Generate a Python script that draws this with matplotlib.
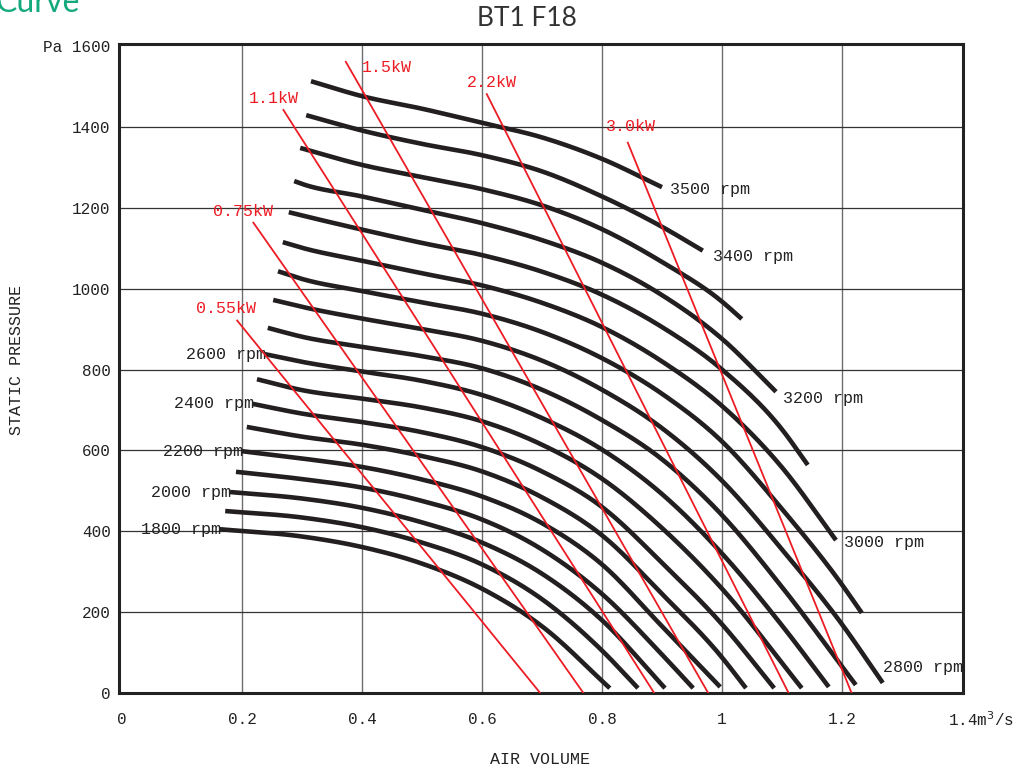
"""
BT1 F18 fan curve: static pressure vs air volume for 1800-3500 rpm,
with constant absorbed-power lines (0.55 - 3.0 kW) drawn in red.
Values read off the original chart by eye.
"""
import numpy as np
import matplotlib
matplotlib.use("Agg")
import matplotlib.pyplot as plt

MONO = "Liberation Mono"

# --- data ---------------------------------------------------------------
RPM = [1800, 1900, 2000, 2100, 2200, 2300, 2400, 2500, 2600,
       2700, 2800, 2900, 3000, 3100, 3200, 3300, 3400, 3500]

Q_START = [0.163, 0.172, 0.180, 0.190, 0.200, 0.208, 0.218, 0.225, 0.238,
           0.243, 0.252, 0.260, 0.268, 0.278, 0.287, 0.297, 0.307, 0.315]
P_START = [405, 450, 497, 547, 598, 658, 715, 776, 838,
           903, 972, 1043, 1115, 1189, 1266, 1348, 1429, 1513]

Q_END = [0.813, 0.860, 0.905, 0.952, 0.997, 1.040, 1.087, 1.133, 1.178,
         1.223, 1.268, 1.233, 1.190, 1.143, 1.090, 1.033, 0.968, 0.900]
P_END = [12, 12, 12, 12, 15, 12, 12, 12, 15,
         20, 25, 198, 378, 564, 745, 925, 1094, 1251]

# pressure where each curve crosses Q = 0.3 ... 1.2 (None = outside curve)
Q_GRID = [0.3, 0.4, 0.5, 0.6, 0.7, 0.8, 0.9, 1.0, 1.1, 1.2]
P_GRID = [
    [387, 361, 320, 258, 165, None, None, None, None, None],      # 1800
    [434, 410, 372, 318, 232, 105, None, None, None, None],       # 1900
    [481, 458, 422, 372, 295, 180, None, None, None, None],       # 2000
    [529, 508, 475, 429, 355, 245, 95, None, None, None],         # 2100
    [580, 559, 528, 486, 420, 318, 165, None, None, None],        # 2200
    [634, 614, 586, 548, 484, 390, 245, 88, None, None],          # 2300
    [691, 670, 645, 608, 548, 460, 322, 170, None, None],         # 2400
    [749, 728, 706, 672, 614, 530, 408, 258, None, None],         # 2500
    [819, 795, 772, 737, 680, 602, 492, 345, 167, None],          # 2600
    [881, 856, 833, 803, 750, 675, 578, 440, 262, None],          # 2700
    [955, 926, 900, 871, 822, 750, 655, 525, 355, 170],           # 2800
    [1024, 994, 966, 938, 893, 828, 740, 622, 455, 268],          # 2900
    [1101, 1069, 1038, 1008, 965, 905, 820, 710, 558, None],      # 3000
    [1181, 1146, 1113, 1083, 1042, 985, 905, 800, 652, None],     # 3100
    [1259, 1228, 1195, 1162, 1120, 1064, 984, 876, None, None],   # 3200
    [None, 1306, 1276, 1246, 1206, 1147, 1066, 968, None, None],  # 3300
    [None, 1391, 1358, 1330, 1290, 1228, 1153, None, None, None], # 3400
    [None, 1476, 1445, 1410, 1374, 1321, None, None, None, None], # 3500
]

LABELLED_LEFT = [1800, 2000, 2200, 2400, 2600]
LABELLED_RIGHT = [2800, 3000, 3200, 3400, 3500]

# constant power lines: top point and where they meet P = 0
KW_LABELS = ["0.55kW", "0.75kW", "1.1kW", "1.5kW", "2.2kW", "3.0kW"]
KW_Q_TOP = [0.192, 0.219, 0.269, 0.373, 0.608, 0.843]
KW_P_TOP = [921, 1163, 1442, 1561, 1481, 1361]
KW_Q_ZERO = [0.697, 0.769, 0.887, 0.977, 1.111, 1.216]

X_TICKS = [0, 0.2, 0.4, 0.6, 0.8, 1.0, 1.2]
X_TICKLABELS = ["0", "0.2", "0.4", "0.6", "0.8", "1", "1.2"]
Y_TICKS = [0, 200, 400, 600, 800, 1000, 1200, 1400, 1600]
Y_TICKLABELS = ["0", "200", "400", "600", "800", "1000", "1200", "1400", "Pa 1600"]

# --- layout ---------------------------------------------------------------
KW_TEXT_POS = [(0.123, 952), (0.152, 1190), (0.212, 1471),
               (0.400, 1548), (0.575, 1511), (0.807, 1400)]
RIGHT_LABEL_OFFSET = {2800: (0, 11), 3000: (6, -2), 3200: (5, -5),
                      3400: (7, -4), 3500: (6, -2)}

CURVE_COLOR = "#231f20"
RED = "#ed1c24"
TEXT = "#222222"


def smooth(xs, ys, n=24):
    """Cubic Hermite through the read points (tangents from neighbouring
    secants), only so the thick lines don't show corners."""
    xs = np.asarray(xs, float)
    ys = np.asarray(ys, float)
    d = np.diff(ys) / np.diff(xs)
    h = np.diff(xs)
    m = np.empty_like(xs)
    m[0], m[-1] = d[0], d[-1]
    for i in range(1, len(xs) - 1):
        m[i] = (d[i - 1] * h[i] + d[i] * h[i - 1]) / (h[i] + h[i - 1])
    out_x, out_y = [xs[0]], [ys[0]]
    for i in range(len(xs) - 1):
        t = np.linspace(0, 1, n)[1:]
        h00 = 2 * t**3 - 3 * t**2 + 1
        h10 = t**3 - 2 * t**2 + t
        h01 = -2 * t**3 + 3 * t**2
        h11 = t**3 - t**2
        out_x.extend(xs[i] + t * h[i])
        out_y.extend(h00 * ys[i] + h10 * h[i] * m[i] + h01 * ys[i + 1]
                     + h11 * h[i] * m[i + 1])
    return np.array(out_x), np.array(out_y)


fig = plt.figure(figsize=(10.19, 7.69), dpi=100)
ax = fig.add_axes([119 / 1019, 76 / 769, 844 / 1019, 649 / 769])
ax.set_xlim(-0.005, 1.4017)
ax.set_ylim(0, 1605)

# grid
for x in X_TICKS[1:]:
    ax.axvline(x, color="#6d6d6d", lw=1.0, zorder=1)
for y in Y_TICKS[1:-1]:
    ax.axhline(y, color="#333333", lw=0.9, zorder=1)

# fan curves
for i, rpm in enumerate(RPM):
    qs = [Q_START[i]]
    ps = [P_START[i]]
    for q, p in zip(Q_GRID, P_GRID[i]):
        if p is not None and Q_START[i] < q < Q_END[i]:
            qs.append(q)
            ps.append(p)
    qs.append(Q_END[i])
    ps.append(P_END[i])
    sx, sy = smooth(qs, ps)
    ax.plot(sx, sy, color=CURVE_COLOR, lw=3.3, solid_capstyle="butt", zorder=3)

    if rpm in LABELLED_LEFT:
        ax.annotate(f"{rpm} rpm", (Q_START[i], P_START[i]),
                    xytext=(1, 0), textcoords="offset points",
                    ha="right", va="center", family=MONO, fontsize=12,
                    color=TEXT, zorder=4)
    if rpm in LABELLED_RIGHT:
        ax.annotate(f"{rpm} rpm", (Q_END[i], P_END[i]),
                    xytext=RIGHT_LABEL_OFFSET[rpm], textcoords="offset points",
                    ha="left", va="center", family=MONO, fontsize=12,
                    color=TEXT, zorder=4)

# constant power lines
for lab, q0, p0, q1, (tx, ty) in zip(KW_LABELS, KW_Q_TOP, KW_P_TOP,
                                     KW_Q_ZERO, KW_TEXT_POS):
    ax.plot([q0, q1], [p0, 0], color=RED, lw=1.3, zorder=4)
    ax.text(tx, ty, lab, color=RED, family=MONO, fontsize=12,
            ha="left", va="center", zorder=5)

# axes frame and ticks
for s in ax.spines.values():
    s.set_linewidth(2.2)
    s.set_color(TEXT)
ax.set_xticks(X_TICKS)
ax.set_xticklabels(X_TICKLABELS, family=MONO, fontsize=11.5)
ax.set_yticks(Y_TICKS)
ax.set_yticklabels(Y_TICKLABELS, family=MONO, fontsize=11.5)
ax.tick_params(axis="x", length=0, pad=14, colors=TEXT)
ax.tick_params(axis="y", length=0, pad=6, colors=TEXT)
ax.annotate("1.4m$^3$/s", (1.4, 0), xycoords="data",
            xytext=(-10, -19.5), textcoords="offset points",
            ha="left", va="center", family=MONO, fontsize=11.5,
            color=TEXT, annotation_clip=False)

fig.text(540 / 1019, 1 - 760 / 769, "AIR VOLUME", ha="center", va="center",
         family=MONO, fontsize=12, color=TEXT)
fig.text(17 / 1019, 1 - 360 / 769, "STATIC PRESSURE", ha="center",
         va="center", rotation=90, family=MONO, fontsize=12, color=TEXT)

fig.text(527 / 1019, 1 - 19 / 769, "BT1 F18", ha="center", va="center",
         family="Lato", fontsize=19, color="#333333")
fig.text(-0.004, 1 - 12 / 769, "Curve", ha="left", va="baseline",
         family="Lato", fontsize=23, color="#13a97d")

fig.savefig("out.png", dpi=100)
